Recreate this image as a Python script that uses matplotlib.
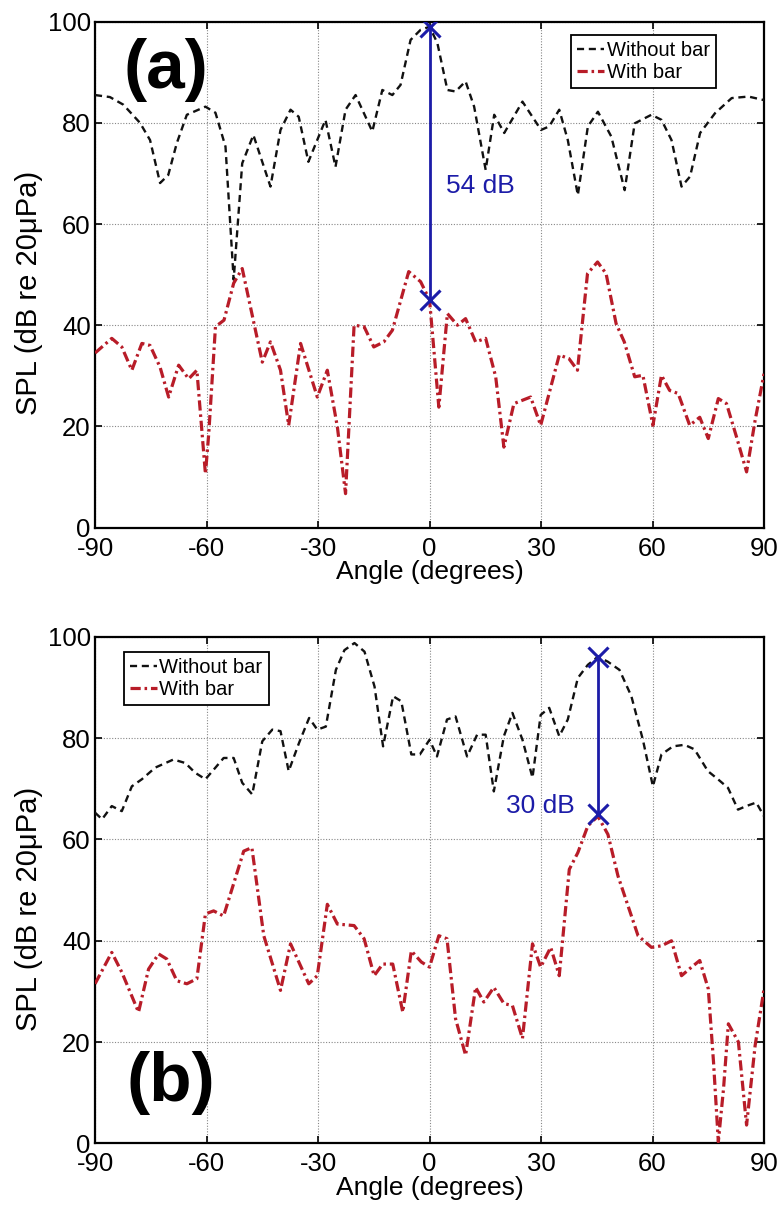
import matplotlib
matplotlib.use("Agg")
import matplotlib.pyplot as plt

plt.rcParams['font.family'] = ['Liberation Sans', 'DejaVu Sans']
plt.rcParams['axes.unicode_minus'] = False

# ---------------- data: panel (a) ----------------
a_black_ang = [-90, -86.0, -82.4, -77.9, -75.2, -72.5, -70.3, -68.0, -65.3, -60.3,
               -57.6, -54.9, -52.7, -50.4, -47.4, -42.8, -40.1, -37.4, -35.2, -32.6,
               -28.0, -25.3, -22.6, -19.9, -15.4, -12.7, -10.0, -7.8, -5.1, -2.4,
               0, 2.1, 4.8, 7.0, 9.7, 12.0, 15.1, 17.4, 20.1, 25.0,
               30.0, 32.2, 34.9, 37.2, 39.9, 42.6, 45.3, 48.9, 52.5, 55.2,
               59.7, 62.4, 65.1, 67.8, 70.1, 72.8, 76.8, 81.3, 85.8, 90]
a_black_val = [85.5, 85.1, 83.6, 80, 76.6, 68.1, 69.7, 76, 81.6, 83.2,
               82, 75.3, 49, 72, 77.6, 67.4, 78.6, 82.6, 81.2, 72.3,
               80.6, 71.3, 82.6, 85.5, 78.3, 86.5, 85.5, 87.5, 96.4, 98.4,
               99, 95.8, 86.5, 86.2, 88.2, 83.2, 70.7, 81.6, 78, 84.2,
               78.6, 79.3, 82.6, 76.6, 65.7, 79.3, 82.2, 77.3, 66.7, 79.9,
               81.6, 80.6, 76.6, 67.4, 69.4, 78, 81.9, 84.9, 85.2, 84.5]

a_red_ang = [-90, -85.5, -82.8, -80.1, -77.4, -75.2, -72.5, -70.2, -67.5, -64.8,
             -62.6, -60.3, -59.4, -57.6, -55.3, -52.7, -50.4, -45.0, -42.8, -40.1,
             -37.9, -34.7, -30.2, -27.5, -24.8, -22.6, -20.3, -17.6, -15.0, -12.3,
             -10.0, -5.6, -2.4, 0, 2.5, 4.8, 7.5, 9.7, 12.4, 15.1,
             17.8, 20.0, 22.7, 27.2, 29.9, 34.9, 37.5, 39.8, 42.5, 45.2,
             47.5, 50.2, 52.4, 55.2, 57.4, 60.1, 62.4, 64.6, 66.9, 70.0,
             72.7, 75.0, 77.7, 79.9, 82.6, 85.3, 87.6, 90]
a_red_val = [34.5, 37.4, 35.7, 31.1, 36.4, 36, 31.7, 25.8, 32.1, 29.4,
             31.1, 10.6, 18.6, 39.7, 41, 48.3, 51.2, 32.7, 36.7, 31.1,
             20.2, 36.4, 25.8, 31.1, 19.9, 6.7, 40, 39.7, 35.7, 36.7,
             39, 50.6, 48.6, 45, 23.8, 42.3, 40, 41.3, 36.7, 37.4,
             29.8, 15.9, 24.5, 25.8, 20.2, 34.1, 33.4, 31.1, 50.2, 52.5,
             50.2, 40.3, 36.7, 29.8, 30.1, 20.2, 30.1, 27.1, 26.5, 20.2,
             21.8, 17.6, 25.5, 24.5, 17.9, 11, 21.2, 30.4]

# ---------------- data: panel (b) ----------------
b_black_ang = [-90, -88.1, -85.5, -82.8, -80.1, -77.4, -73.8, -68.9, -65.7, -63.1,
               -60.3, -57.6, -55.4, -52.7, -50.4, -47.7, -45.0, -42.3, -40.1, -37.9,
               -35.1, -32.4, -30.2, -27.9, -25.2, -22.9, -20.2, -17.5, -14.8, -12.5,
               -9.8, -7.6, -4.9, -2.6, 0, 2.0, 4.7, 7.0, 10.1, 12.8,
               15.1, 17.3, 20.0, 22.3, 25.0, 27.7, 29.9, 32.2, 34.9, 37.2,
               39.9, 42.6, 45.3, 48.0, 51.1, 54.3, 57.4, 60.1, 62.4, 65.5,
               68.6, 71.3, 74.9, 77.6, 80.3, 83.0, 85.2, 87.9, 90]
b_black_val = [65.3, 64, 66.6, 65.6, 70.5, 71.9, 74.2, 75.8, 75.1, 73.2,
               71.9, 74.2, 76.1, 76.1, 71.2, 68.9, 79.4, 81.7, 81.4, 73.5,
               79.1, 84, 81.7, 82.3, 93.5, 97.4, 98.8, 97.1, 90.2, 78.4,
               88.3, 87.3, 76.8, 76.8, 79.7, 76.4, 83.7, 84.3, 76.4, 80.7,
               80.7, 69.5, 80.4, 85, 79.7, 72.2, 84.6, 86, 80.4, 83.7,
               91.9, 94.5, 96.1, 95.1, 93.5, 88.3, 79.7, 70.5, 76.8, 78.4,
               78.7, 77.8, 73.5, 71.9, 70.2, 65.9, 66.6, 67.3, 64.6]

b_red_ang = [-90, -85.5, -82.8, -78.3, -75.6, -72.9, -70.7, -68.0, -65.3, -62.6,
             -60.3, -58.1, -55.4, -50.0, -47.8, -44.6, -40.1, -37.4, -32.5, -30.2,
             -27.5, -24.8, -20.3, -17.6, -14.9, -12.6, -9.9, -7.2, -4.9, -2.2,
             0, 2.5, 4.7, 7.0, 9.7, 12.4, 14.6, 17.3, 20.0, 22.3,
             25.0, 27.7, 29.9, 32.6, 34.9, 37.6, 39.9, 42.6, 45.3, 48.0,
             50.7, 53.4, 56.1, 59.7, 62.4, 65.1, 67.8, 70.5, 72.7, 75.0,
             76.4, 77.7, 79.1, 80.4, 83.1, 85.3, 87.6, 90]
b_red_val = [31.5, 37.7, 33.8, 25.9, 34.4, 37.4, 36.4, 32.1, 31.5, 32.5,
             45.3, 45.9, 44.9, 57.7, 58.4, 41, 30.2, 39.4, 31.5, 33.1,
             47.2, 43.3, 43, 40.4, 33.1, 35.4, 35.4, 25.9, 38, 35.8,
             34.8, 41, 40.4, 24.6, 17.4, 30.8, 27.9, 30.8, 27.6, 27.2,
             20.7, 39.4, 34.8, 38.7, 33.1, 54.1, 57.4, 62.7, 64.6, 61,
             52.8, 46.9, 41, 38.7, 39, 40, 33.1, 34.8, 36.1, 30.5,
             16.1, 0.3, 10.8, 23.6, 20, 3.6, 19.3, 30.5]

# annotation data
a_marker_ang = [0, 0]
a_marker_val = [99, 45]
a_diff_text = "54 dB"
b_marker_ang = [45.2, 45.2]
b_marker_val = [96.1, 65]
b_diff_text = "30 dB"

x_ticks = [-90, -60, -30, 0, 30, 60, 90]
y_ticks = [0, 20, 40, 60, 80, 100]
series_labels = ["Without bar", "With bar"]
xlabel = "Angle (degrees)"
ylabel = "SPL (dB re 20\u03bcPa)"

# ---------------- styling ----------------
BLACK = "#111111"
RED = "#b81c28"
BLUE = "#1c1ca8"

fig = plt.figure(figsize=(7.79, 12.05), dpi=100)
ax_a = fig.add_axes([0.1220, 0.5622, 0.8588, 0.4198])
ax_b = fig.add_axes([0.1220, 0.0512, 0.8588, 0.4202])


def style_axes(ax):
    ax.set_xlim(-90, 90)
    ax.set_ylim(0, 100)
    ax.set_xticks(x_ticks)
    ax.set_yticks(y_ticks)
    ax.grid(True, linestyle=(0, (1, 1.5)), color="#888888", linewidth=0.8)
    ax.tick_params(direction="in", length=5, width=1.2, top=True, right=True,
                   labelsize=18.5, colors="black")
    ax.tick_params(axis="y", pad=3)
    ax.tick_params(axis="x", pad=6.5)
    for s in ax.spines.values():
        s.set_linewidth(1.6)
        s.set_color("black")
    ax.set_xlabel(xlabel, fontsize=19)
    ax.set_ylabel(ylabel, fontsize=21)
    ax.xaxis.set_label_coords(0.5, -0.088)
    ax.xaxis.label.set_verticalalignment("center")
    ax.yaxis.set_label_coords(-0.098, 0.463)
    ax.yaxis.label.set_verticalalignment("center")


def draw(ax, bang, bval, rang, rval):
    ax.plot(bang, bval, color=BLACK, linewidth=1.7, dashes=(3, 2),
            label=series_labels[0], zorder=3)
    ax.plot(rang, rval, color=RED, linewidth=2.3, linestyle=(0, (3.2, 1.2, 0.8, 1.2)),
            label=series_labels[1], zorder=3)


style_axes(ax_a)
style_axes(ax_b)

draw(ax_a, a_black_ang, a_black_val, a_red_ang, a_red_val)
draw(ax_b, b_black_ang, b_black_val, b_red_ang, b_red_val)

# annotations (a)
ax_a.plot(a_marker_ang, a_marker_val, color=BLUE, linewidth=2, marker="x",
          markersize=15, markeredgewidth=2.2, zorder=5)
ax_a.text(4.5, 67.5, a_diff_text, color=BLUE, fontsize=19, ha="left", va="center")
ax_a.text(-71, 90.5, "(a)", fontsize=50, fontweight="bold", ha="center", va="center")

# annotations (b)
ax_b.plot(b_marker_ang, b_marker_val, color=BLUE, linewidth=2, marker="x",
          markersize=15, markeredgewidth=2.2, zorder=5)
ax_b.text(39.2, 66.6, b_diff_text, color=BLUE, fontsize=19, ha="right", va="center")
ax_b.text(-69.5, 12, "(b)", fontsize=50, fontweight="bold", ha="center", va="center")

leg_kw = dict(fontsize=14.5, frameon=True, fancybox=False, shadow=False,
              handlelength=1.35, handletextpad=0.12, labelspacing=0.15,
              borderpad=0.3, borderaxespad=0.0)
la = ax_a.legend(loc="upper right", bbox_to_anchor=(0.928, 0.974), **leg_kw)
lb = ax_b.legend(loc="upper left", bbox_to_anchor=(0.043, 0.970), **leg_kw)
for lg in (la, lb):
    lg.get_frame().set_edgecolor("black")
    lg.get_frame().set_linewidth(1.3)
    lg.get_frame().set_alpha(1.0)

fig.savefig("out.png", dpi=100)
